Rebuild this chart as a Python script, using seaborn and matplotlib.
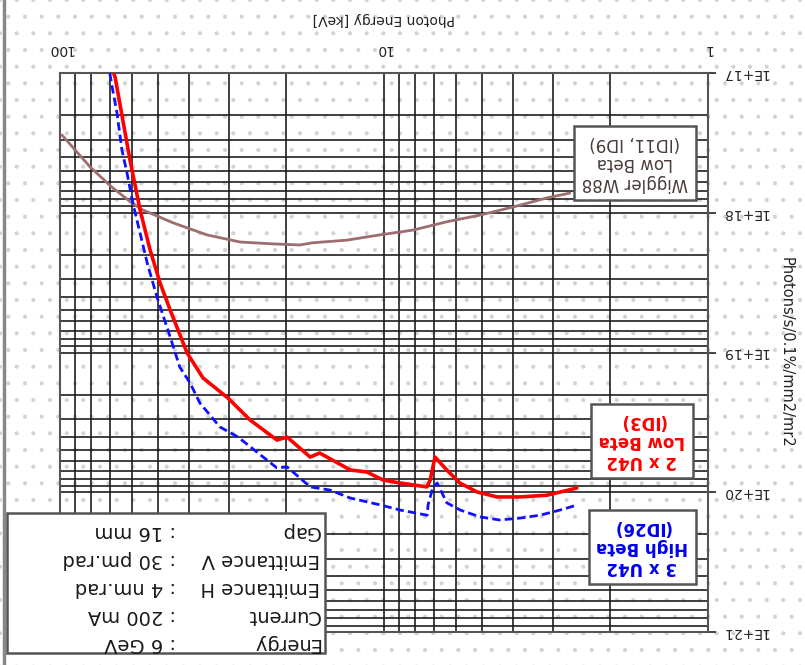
import matplotlib
matplotlib.use("Agg")
import matplotlib.pyplot as plt
import seaborn as sns
import pandas as pd
from matplotlib.patches import Rectangle
from matplotlib.lines import Line2D

# ---------------- data ----------------
red_E = [70.2, 67.6, 60.8, 56.6, 52.7, 49.1, 45.7, 40.5, 36.2, 30.3, 25.9, 21.4, 19.9,
         16.9, 15.8, 12.7, 11.3, 10.07, 8.93, 7.37, 7.2, 6.96, 6.4, 5.83, 5.16, 4.48,
         3.80, 3.14, 2.54]
red_B = [0.85e17, 1.07e17, 4.20e17, 9.55e17, 1.85e18, 3.18e18, 4.97e18, 1.01e19, 1.52e19,
         2.12e19, 3.04e19, 4.23e19, 4.03e19, 5.60e19, 5.24e19, 6.93e19, 7.16e19, 8.17e19,
         8.59e19, 9.16e19, 8.17e19, 5.60e19, 6.93e19, 8.59e19, 9.95e19, 1.08e20, 1.08e20,
         1.05e20, 9.33e19]

blue_E = [70.2, 69.2, 66.7, 64.4, 62.1, 59.6, 56.6, 53.8, 50.2, 45.7, 42.7, 39.7, 37.0,
          32.1, 28.2, 24.7, 21.4, 19.9, 16.9, 14.7, 12.7, 10.3, 8.93, 7.36, 7.31, 7.06,
          6.85, 6.40, 5.82, 5.06, 4.39, 3.80, 3.30, 2.86, 2.52]
blue_B = [1.0e17, 1.22e17, 1.93e17, 3.56e17, 5.20e17, 8.51e17, 1.40e18, 2.29e18, 4.01e18,
          7.74e18, 1.27e19, 1.65e19, 2.30e19, 3.41e19, 4.03e19, 5.15e19, 6.70e19, 6.59e19,
          9.16e19, 9.64e19, 1.10e20, 1.23e20, 1.34e20, 1.46e20, 1.23e20, 9.16e19, 8.59e19,
          1.19e20, 1.34e20, 1.50e20, 1.58e20, 1.53e20, 1.46e20, 1.34e20, 1.23e20]

wig_E = [98.6, 80.7, 69.2, 60.0, 55.5, 44.8, 35.2, 27.8, 22.0, 18.2, 16.6, 13.0, 10.3,
         8.13, 6.40, 5.06, 4.00, 3.14, 2.67]
wig_B = [2.78e17, 4.71e17, 6.55e17, 8.51e17, 9.55e17, 1.18e18, 1.44e18, 1.62e18, 1.67e18,
         1.70e18, 1.64e18, 1.57e18, 1.44e18, 1.33e18, 1.16e18, 1.04e18, 9.10e17, 7.83e17,
         7.23e17]

x_ticks = [1, 10, 100]
x_ticklabels = ["1", "10", "100"]
y_ticks = [1e17, 1e18, 1e19, 1e20, 1e21]
y_ticklabels = ["1E+17", "1E+18", "1E+19", "1E+20", "1E+21"]

wig_label = "Wiggler W88\nLow Beta\n(ID11, ID9)"
red_label = "2 x U42\nLow Beta\n(ID3)"
blue_label = "3 x U42\nHigh Beta\n(ID26)"
info_names = ["Energy", "Current", "Emittance H", "Emittance V", "Gap"]
info_values = [": 6 GeV", ": 200 mA", ": 4 nm.rad", ": 30 pm.rad", ": 16 mm"]

# ---------------- style ----------------
sns.set_theme(style="white")
plt.rcParams["font.family"] = ["DejaVu Sans"]
plt.rcParams["hatch.linewidth"] = 0.5

W, H = 805, 665
fig = plt.figure(figsize=(W / 100, H / 100), dpi=100)
fig.patch.set_facecolor("white")

# dotted paper background
bg = Rectangle((0, 0), 1, 1, transform=fig.transFigure, facecolor="white",
               edgecolor="#d2d2d2", hatch=".", linewidth=0, zorder=-10)
fig.patches.append(bg)

L, R, T, B = 60, 708, 73, 632
ax = fig.add_axes([L / W, 1 - B / H, (R - L) / W, (B - T) / H])
ax.patch.set_alpha(0)

df_red = pd.DataFrame({"E": red_E, "B": red_B})
df_blue = pd.DataFrame({"E": blue_E, "B": blue_B})
df_wig = pd.DataFrame({"E": wig_E, "B": wig_B})

sns.lineplot(data=df_wig, x="E", y="B", ax=ax, color="#9c6e6e", linewidth=2.0,
             sort=False, estimator=None, zorder=5)
sns.lineplot(data=df_blue, x="E", y="B", ax=ax, color="#1010ff", linewidth=2.0,
             linestyle=(0, (3, 1.5)), sort=False, estimator=None, zorder=6)
sns.lineplot(data=df_red, x="E", y="B", ax=ax, color="#ff0000", linewidth=2.6,
             sort=False, estimator=None, zorder=7)

ax.set_xscale("log")
ax.set_yscale("log")
ax.set_xlim(100, 1)
ax.set_ylim(1e21, 1e17)

ax.grid(True, which="both", color="#1a1a1a", linewidth=1.3, alpha=0.9)
ax.set_axisbelow(True)

ax.xaxis.tick_top()
ax.xaxis.set_label_position("top")
ax.yaxis.tick_right()
ax.yaxis.set_label_position("right")

ax.set_xticks(x_ticks)
ax.set_xticklabels(x_ticklabels, rotation=180, fontsize=10)
ax.set_yticks(y_ticks)
ax.set_yticklabels(y_ticklabels, rotation=180, fontsize=10, va="center")
ax.tick_params(axis="x", which="major", length=0, pad=12, colors="#222222")
ax.tick_params(axis="y", which="major", length=6, width=1.2, pad=4, colors="#222222",
               direction="out")
ax.tick_params(which="minor", length=0)
for lbl in ax.get_xticklabels() + ax.get_yticklabels():
    lbl.set_color("#222222")

ax.set_xlabel("Photon Energy [keV]", rotation=180, fontsize=10, color="#222222",
              labelpad=14)
ax.set_ylabel("Photons/s/0.1%/mm2/mr2", rotation=270, fontsize=10.5, color="#222222",
              labelpad=18)

for s in ax.spines.values():
    s.set_color("#555555")
    s.set_linewidth(1.5)
    s.set_visible(True)


def afrac(px, py):
    return (px - L) / (R - L), (B - py) / (B - T)


box = dict(boxstyle="square,pad=0.45", facecolor="white", edgecolor="#555555",
           linewidth=1.8)
fx, fy = afrac(635, 163)
ax.text(fx, fy, wig_label, transform=ax.transAxes, rotation=180, ha="center",
        va="center", multialignment="center", fontsize=12, color="#4a3a3a",
        bbox=box, zorder=10, linespacing=1.15)
fx, fy = afrac(642, 441)
ax.text(fx, fy, red_label, transform=ax.transAxes, rotation=180, ha="center",
        va="center", multialignment="center", fontsize=12, color="#ff0000",
        bbox=box, zorder=10, linespacing=1.15, fontweight="semibold")
fx, fy = afrac(642, 547)
ax.text(fx, fy, blue_label, transform=ax.transAxes, rotation=180, ha="center",
        va="center", multialignment="center", fontsize=12, color="#0000ee",
        bbox=box, zorder=10, linespacing=1.15, fontweight="semibold")

# info box (outside axes, figure coordinates)
info_rect = Rectangle((7 / W, 1 - 653 / H), (325 - 7) / W, (653 - 513) / H,
                      transform=fig.transFigure, facecolor="white", edgecolor="#555555",
                      linewidth=1.8, zorder=3)
fig.patches.append(info_rect)
info_y = [643, 616, 588, 560, 532]
for name, val, py in zip(info_names, info_values, info_y):
    fig.text(320 / W, 1 - py / H, name, rotation=180, ha="right", va="center",
             fontsize=14, color="#1a1a1a", zorder=4)
    fig.text(176 / W, 1 - py / H, val, rotation=180, ha="right", va="center",
             fontsize=14, color="#1a1a1a", zorder=4)

# left page border
fig.add_artist(Line2D([4 / W, 4 / W], [0, 1], transform=fig.transFigure,
                      color="#888888", linewidth=2.5))

fig.savefig("out.png", dpi=100)
